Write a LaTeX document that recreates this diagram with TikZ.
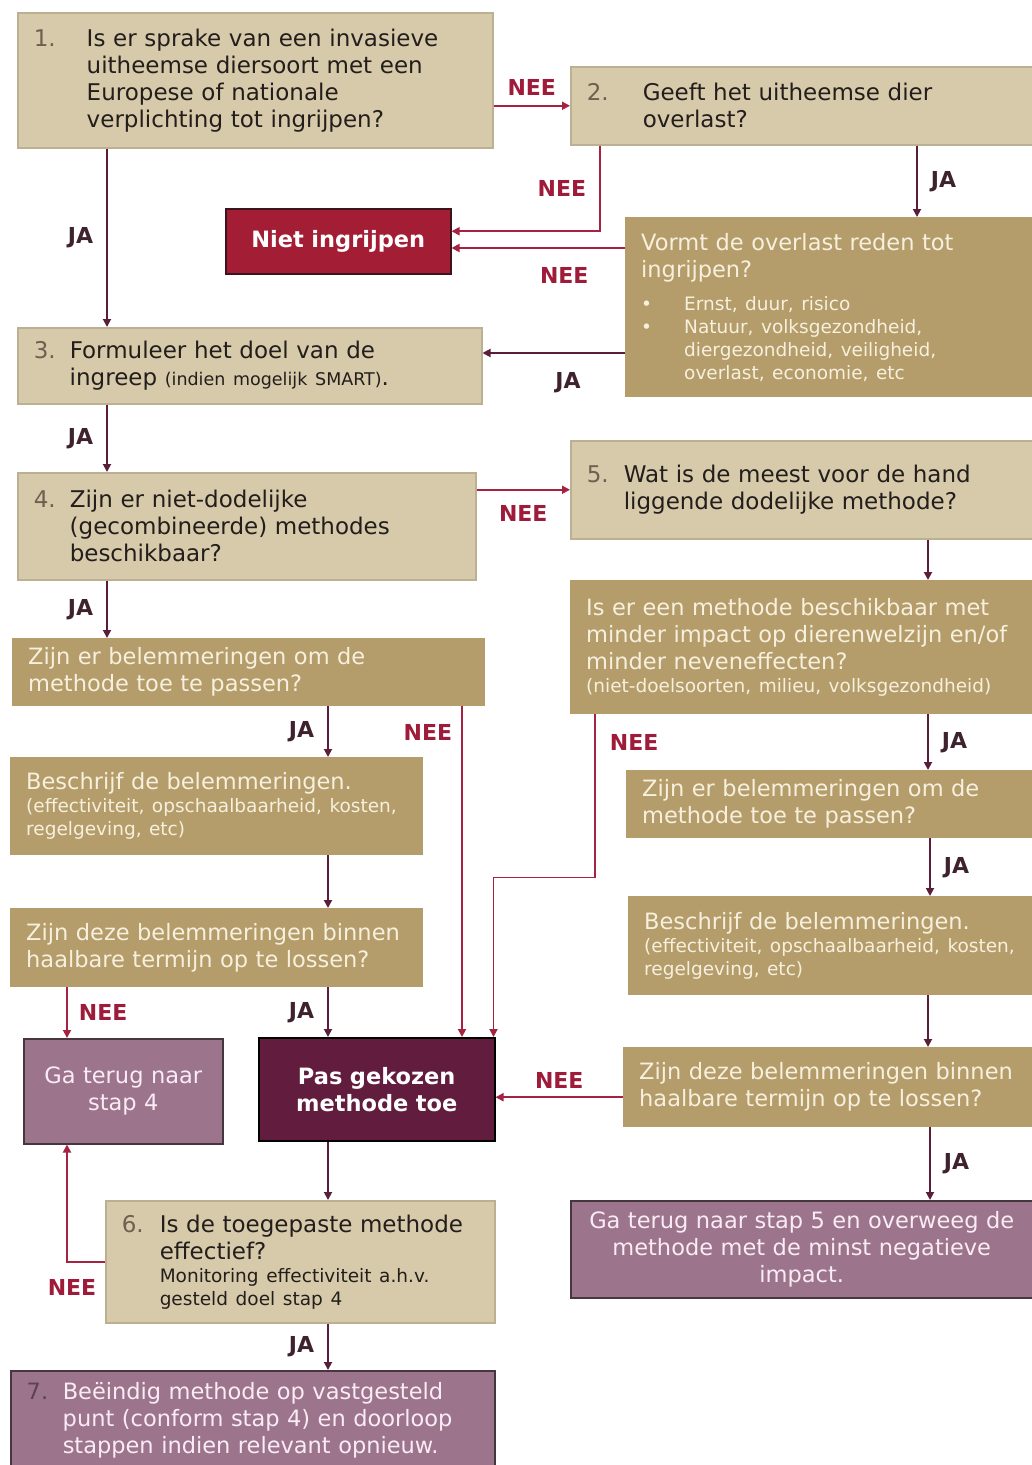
\documentclass[tikz,border=0pt]{standalone}
\usepackage{fontspec}
\setmainfont{DejaVu Sans}
\usetikzlibrary{calc,arrows.meta}

\definecolor{lichtbeige}{RGB}{214,202,170}
\definecolor{randbeige}{RGB}{188,176,146}
\definecolor{goud}{RGB}{180,157,106}
\definecolor{room}{RGB}{247,240,222}
\definecolor{rood}{RGB}{163,30,52}
\definecolor{roodrand}{RGB}{60,20,30}
\definecolor{bordeaux}{RGB}{98,28,62}
\definecolor{mauve}{RGB}{156,116,140}
\definecolor{paarsrand}{RGB}{70,55,62}
\definecolor{roze}{RGB}{250,236,244}
\definecolor{pijlja}{RGB}{90,30,58}
\definecolor{pijlnee}{RGB}{165,34,64}
\definecolor{neekleur}{RGB}{158,27,58}
\definecolor{jakleur}{RGB}{62,34,46}
\definecolor{nummer}{RGB}{110,95,80}
\definecolor{nummerpaars}{RGB}{95,65,85}
\definecolor{tekst}{RGB}{35,30,28}

\newcommand{\stapnr}[3][nummer]{\leftskip=#2\relax\hspace*{-#2}\makebox[#2][l]{\textcolor{#1}{#3}}}
\newcommand{\opsom}{\hspace*{-43pt}\makebox[43pt][l]{\textbullet}}
\newcommand{\klein}{\fontsize{18.5}{23}\selectfont}
\newcommand{\groot}{\fontsize{23}{27}\selectfont}
\newcommand{\middel}{\fontsize{22.5}{27}\selectfont}

\begin{document}
\begin{tikzpicture}[x=1pt, y=-1pt, >={Triangle[length=8pt,width=8pt]},
    blok/.style={anchor=north west, align=left, inner xsep=16pt, inner ysep=0pt, font=\middel},
    licht/.style={blok, font=\groot, fill=lichtbeige, draw=randbeige, line width=1.5pt, text=tekst},
    donker/.style={blok, fill=goud, text=room},
    paars/.style={blok, fill=mauve, draw=paarsrand, line width=1.5pt, text=roze},
    ja/.style={->, draw=pijlja, line width=1.8pt},
    nee/.style={->, draw=pijlnee, line width=1.8pt},
    lbl/.style={font=\bfseries\fontsize{22}{22}\selectfont, inner sep=1pt},
    lblnee/.style={lbl, text=neekleur},
    lblja/.style={lbl, text=jakleur}]
    \useasboundingbox (0,0) rectangle (1032,1465);

    \node[licht, text width=443pt, minimum height=135pt] (stap1) at (17,12) {\stapnr{53pt}{1.}Is er sprake van een invasieve\\uitheemse diersoort met een\\Europese of nationale\\verplichting tot ingrijpen?\par};
    \node[licht, text width=430pt, minimum height=78pt] (stap2) at (570,66) {\stapnr{56pt}{2.}Geeft het uitheemse dier\\overlast?\par};
    \node[blok, fill=rood, draw=roodrand, line width=1.5pt, text=white, align=center, text width=193pt, minimum height=65pt, font=\middel\bfseries] (niet) at (225,208) {Niet ingrijpen};
    \node[donker, text width=375pt, minimum height=180pt] (overlast) at (625,217) {Vormt de overlast reden tot\\ingrijpen?\par\vspace{10pt}{\klein\leftskip=43pt\opsom Ernst, duur, risico\par\opsom Natuur, volksgezondheid,\\diergezondheid, veiligheid,\\overlast, economie, etc\par}};
    \node[licht, text width=432pt, minimum height=76pt] (stap3) at (17,327) {\stapnr{36pt}{3.}Formuleer het doel van de\\ingreep {\fontsize{17.5}{27}\selectfont(indien mogelijk SMART)}.\par};
    \node[licht, text width=426pt, minimum height=107pt] (stap4) at (17,472) {\stapnr{36pt}{4.}Zijn er niet-dodelijke\\(gecombineerde) methodes\\beschikbaar?\par};
    \node[licht, text width=430pt, minimum height=98pt] (stap5) at (570,440) {\stapnr{37pt}{5.}Wat is de meest voor de hand\\liggende dodelijke methode?\par};
    \node[donker, text width=430pt, minimum height=134pt] (impact) at (570,580) {Is er een methode beschikbaar met\\minder impact op dierenwelzijn en/of\\minder neveneffecten?\par{\klein(niet-doelsoorten, milieu, volksgezondheid)\par}};
    \node[donker, text width=441pt, minimum height=68pt] (belem1) at (12,638) {Zijn er belemmeringen om de\\methode toe te passen?};
    \node[donker, text width=381pt, minimum height=98pt] (beschr1) at (10,757) {Beschrijf de belemmeringen.\par{\klein(effectiviteit, opschaalbaarheid, kosten,\\regelgeving, etc)\par}};
    \node[donker, text width=381pt, minimum height=79pt] (zijn1) at (10,908) {Zijn deze belemmeringen binnen\\haalbare termijn op te lossen?};
    \node[paars, align=center, text width=167pt, minimum height=105pt] (terug4) at (23,1038) {Ga terug naar\\stap 4};
    \node[blok, fill=bordeaux, draw=black, line width=1.5pt, text=white, align=center, text width=204pt, minimum height=103pt, font=\middel\bfseries] (toepassen) at (258,1037) {Pas gekozen\\methode toe};
    \node[donker, text width=374pt, minimum height=68pt] (belem2) at (626,770) {Zijn er belemmeringen om de\\methode toe te passen?};
    \node[donker, text width=372pt, minimum height=99pt] (beschr2) at (628,896) {Beschrijf de belemmeringen.\par{\klein(effectiviteit, opschaalbaarheid, kosten,\\regelgeving, etc)\par}};
    \node[donker, text width=377pt, minimum height=80pt] (zijn2) at (623,1047) {Zijn deze belemmeringen binnen\\haalbare termijn op te lossen?};
    \node[paars, align=center, text width=430pt, minimum height=97pt] (terug5) at (570,1200) {Ga terug naar stap 5 en overweeg de\\methode met de minst negatieve\\impact.};
    \node[licht, text width=357pt, minimum height=122pt] (stap6) at (105,1200) {\stapnr{38pt}{6.}Is de toegepaste methode\\effectief?\par{\klein Monitoring effectiviteit a.h.v.\\gesteld doel stap 4\par}};
    \node[paars, text width=452pt, minimum height=100pt] (stap7) at (10,1370) {\stapnr[nummerpaars]{36pt}{7.}Beëindig methode op vastgesteld\\punt (conform stap 4) en doorloop\\stappen indien relevant opnieuw.\par};

    \draw[nee] (stap2.west -| stap1.east) -- (stap2.west) node[lblnee, midway, above=8pt] {NEE};
    \draw[ja] ($(stap1.south west)+(90,0)$) -- ($(stap3.north west)+(90,0)$) node[lblja, midway, left=12pt] {JA};
    \draw[nee] ($(stap2.south west)+(30,0)$) |- ($(niet.east)+(0,-10)$) node[lblnee, pos=0.25, left=12pt] {NEE};
    \draw[ja] ($(stap2.south west)+(347,0)$) -- ($(overlast.north west)+(292,0)$) node[lblja, midway, right=12pt] {JA};
    \draw[nee] ($(overlast.north west)+(0,31)$) coordinate (c1) -- (c1 -| niet.east) node[lblnee, pos=0.35, below=18pt] {NEE};
    \draw[ja] ($(overlast.north west)+(0,136)$) coordinate (c2) -- (c2 -| stap3.east) node[lblja, pos=0.4, below=18pt] {JA};
    \draw[ja] ($(stap3.south west)+(90,0)$) -- ($(stap4.north west)+(90,0)$) node[lblja, midway, left=12pt] {JA};
    \draw[nee] (stap5.west -| stap4.east) -- (stap5.west) node[lblnee, midway, below=14pt] {NEE};
    \draw[ja] ($(stap4.south west)+(90,0)$) -- ($(belem1.north west)+(95,0)$) node[lblja, midway, left=12pt] {JA};
    \draw[ja] ($(stap5.south west)+(358,0)$) -- ($(impact.north west)+(358,0)$);
    \draw[ja] ($(belem1.south west)+(316,0)$) -- ($(beschr1.north west)+(318,0)$) node[lblja, midway, left=12pt] {JA};
    \draw[nee] ($(belem1.south west)+(450,0)$) -- ($(toepassen.north west)+(204,0)$) node[lblnee, pos=0.08, left=8pt] {NEE};
    \draw[nee] ($(impact.south west)+(25,0)$) -- node[lblnee, pos=0.17, right=13pt] {NEE} ++(0,163) -| ($(toepassen.north east)+(-2,0)$);
    \draw[ja] ($(impact.south west)+(358,0)$) -- ($(belem2.north west)+(302,0)$) node[lblja, midway, right=12pt] {JA};
    \draw[ja] ($(belem2.south west)+(304,0)$) -- ($(beschr2.north west)+(302,0)$) node[lblja, midway, right=12pt] {JA};
    \draw[ja] ($(beschr2.south west)+(300,0)$) -- ($(zijn2.north west)+(305,0)$);
    \draw[nee] ($(zijn2.west)+(0,10)$) coordinate (c3) -- (c3 -| toepassen.east) node[lblnee, midway, above=7pt] {NEE};
    \draw[ja] ($(zijn2.south west)+(307,0)$) -- ($(terug5.north west)+(360,0)$) node[lblja, midway, right=12pt] {JA};
    \draw[ja] ($(beschr1.south west)+(318,0)$) -- ($(zijn1.north west)+(318,0)$);
    \draw[nee] ($(zijn1.south west)+(57,0)$) -- ($(terug4.north west)+(44,0)$) node[lblnee, midway, right=10pt] {NEE};
    \draw[ja] ($(zijn1.south west)+(318,0)$) -- ($(toepassen.north west)+(70,0)$) node[lblja, midway, left=12pt] {JA};
    \draw[ja] ($(toepassen.south west)+(70,0)$) -- ($(stap6.north west)+(223,0)$);
    \draw[nee] (stap6.west) -| ($(terug4.south west)+(44,0)$) node[lblnee, pos=0.5, below=16pt, xshift=5pt] {NEE};
    \draw[ja] ($(stap6.south west)+(223,0)$) -- ($(stap7.north west)+(318,0)$) node[lblja, midway, left=12pt] {JA};
\end{tikzpicture}
\end{document}
